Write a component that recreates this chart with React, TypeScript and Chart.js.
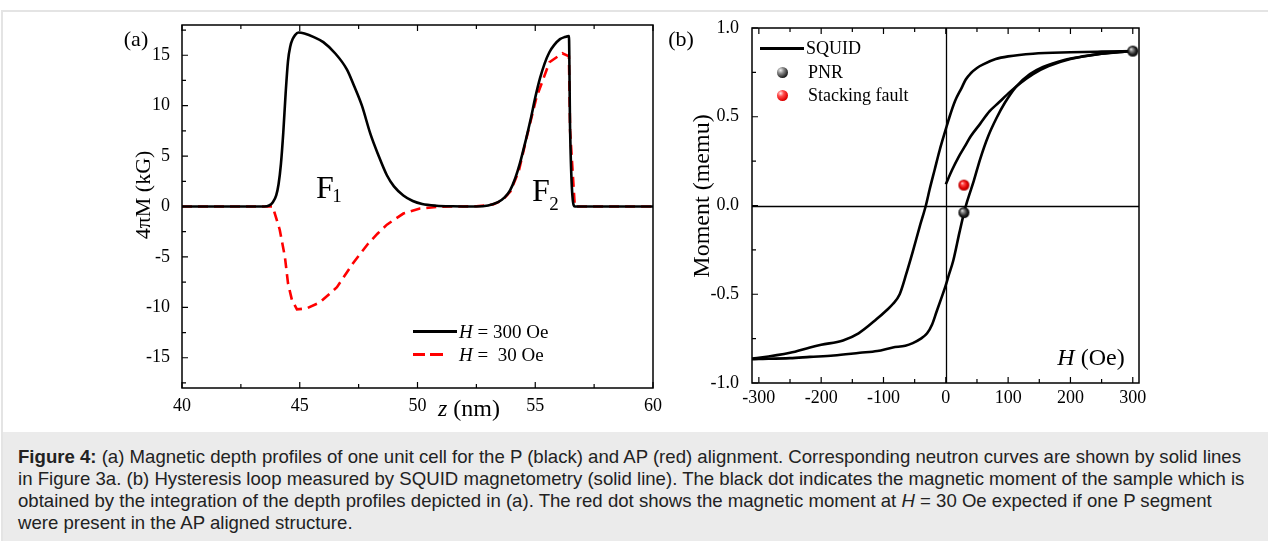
import React, { useEffect, useRef } from "react";
import { Chart, registerables } from "chart.js";
Chart.register(...registerables);

// ---------- Panel (a): magnetic depth profiles ----------
const zBlack = [40, 43.5, 43.7, 43.85, 44.0, 44.1, 44.2, 44.3, 44.4, 44.5, 44.6, 44.7, 44.8, 44.95, 45.2, 45.6, 46.0, 46.5, 47.0, 47.3, 47.64, 48.0, 48.32, 48.7, 49.0, 49.4, 49.8, 50.2, 50.8, 51.5, 52.5, 53.0, 53.4, 53.7, 53.93, 54.15, 54.35, 54.6, 54.8, 55.0, 55.2, 55.4, 55.6, 55.8, 56.05, 56.25, 56.43, 56.48, 56.68, 57.0, 60];
const mBlack = [0, 0, 0.1, 0.4, 1.1, 2.2, 4.2, 7.3, 11.2, 14.4, 15.9, 16.6, 17.0, 17.25, 17.15, 16.8, 16.3, 15.2, 13.6, 12.0, 10.0, 7.2, 5.2, 3.1, 2.0, 1.1, 0.55, 0.25, 0.08, 0.02, 0.0, 0.1, 0.4, 0.9, 1.6, 2.8, 4.3, 6.6, 8.6, 10.8, 12.7, 14.2, 15.3, 16.0, 16.6, 16.8, 16.9, 7.6, 0, 0, 0];
const zRed = [40, 43.85, 44.15, 44.37, 44.5, 44.67, 44.88, 45.3, 45.86, 46.58, 47.27, 47.9, 48.3, 48.7, 49.4, 50.1, 50.8, 51.5, 52.5, 53.2, 53.6, 53.95, 54.3, 54.65, 55.05, 55.6, 56.15, 56.43, 56.48, 56.68, 60];
const mRed = [0, 0, -2.3, -5.0, -7.6, -9.3, -10.2, -10.1, -9.5, -8.0, -5.6, -3.7, -2.7, -1.8, -0.7, -0.2, -0.05, 0, 0.02, 0.2, 0.6, 1.5, 3.5, 7.0, 10.8, 14.3, 15.2, 14.9, 7.5, 0, 0];
const xTicksA = [40, 45, 50, 55, 60];
const xMinorA = [42.5, 47.5, 52.5, 57.5];
const yTicksA = [-15, -10, -5, 0, 5, 10, 15];
const yMinorA = [-17.5, -12.5, -7.5, -2.5, 2.5, 7.5, 12.5, 17.5];

// ---------- Panel (b): hysteresis loop ----------
const hDesc = [-311, -300, -250, -218, -200, -165, -140, -111, -95, -85, -74, -63, -53, -42, -32, -26, -18, -10, 0, 6, 15, 25, 32, 40, 50, 60, 80, 100, 140, 200, 250, 300];
const mDesc = [-0.862, -0.858, -0.83, -0.8, -0.785, -0.76, -0.72, -0.64, -0.59, -0.555, -0.5, -0.38, -0.26, -0.12, 0.0, 0.09, 0.2, 0.31, 0.43, 0.5, 0.59, 0.66, 0.71, 0.745, 0.775, 0.795, 0.825, 0.84, 0.855, 0.863, 0.867, 0.87];
const hAsc = [-311, -300, -250, -218, -180, -138, -110, -85, -65, -53, -40, -30, -22, -15, -8, -2, 5, 12, 22, 30, 34, 45, 55, 68, 81, 95, 113, 135, 156, 190, 220, 260, 300];
const mAsc = [-0.866, -0.865, -0.86, -0.853, -0.845, -0.83, -0.82, -0.8, -0.79, -0.775, -0.75, -0.72, -0.67, -0.6, -0.53, -0.47, -0.39, -0.31, -0.15, -0.03, 0.02, 0.14, 0.26, 0.39, 0.49, 0.58, 0.67, 0.74, 0.78, 0.82, 0.84, 0.86, 0.87];
const hInit = [0, 10, 20, 30, 40, 55, 70, 85, 103, 120, 140, 165, 200, 250, 300];
const mInit = [0.12, 0.2, 0.27, 0.33, 0.39, 0.46, 0.53, 0.58, 0.64, 0.69, 0.74, 0.785, 0.825, 0.855, 0.87];
const hPNR = [300, 29];
const mPNR = [0.87, -0.04];
const hFault = [29];
const mFault = [0.115];
const xTicksB = [-300, -200, -100, 0, 100, 200, 300];
const xMinorB = [-250, -150, -50, 50, 150, 250];
const yTicksB = [-1, -0.5, 0, 0.5, 1];
const yMinorB = [-0.75, -0.25, 0.25, 0.75];

const SERIF = '"Liberation Serif", "Times New Roman", serif';

const pts = (xs: number[], ys: number[]) => xs.map((x, i) => ({ x, y: ys[i] }));

function makeSphere(kind: "black" | "red", r: number) {
  const c = document.createElement("canvas");
  const s = Math.ceil(r * 2) + 2;
  c.width = s;
  c.height = s;
  const g = c.getContext("2d")!;
  const cx = s / 2, cy = s / 2;
  const grad = g.createRadialGradient(cx - r * 0.35, cy - r * 0.4, 0, cx, cy, r);
  if (kind === "black") {
    grad.addColorStop(0, "#f2f2f2");
    grad.addColorStop(0.3, "#8a8a8a");
    grad.addColorStop(0.7, "#222");
    grad.addColorStop(1, "#000");
  } else {
    grad.addColorStop(0, "#ffe6e6");
    grad.addColorStop(0.3, "#ff4a4a");
    grad.addColorStop(0.7, "#e00000");
    grad.addColorStop(1, "#a80000");
  }
  g.fillStyle = grad;
  g.beginPath();
  g.arc(cx, cy, r, 0, Math.PI * 2);
  g.fill();
  return c;
}

const axesFrame = {
  id: "axesFrame",
  beforeDatasetsDraw(chart: any, _a: any, o: any) {
    if (!o || !o.zeroLines) return;
    const { ctx, chartArea: ca, scales } = chart;
    ctx.save();
    ctx.strokeStyle = "#000";
    ctx.lineWidth = 1.3;
    const x0 = Math.round(scales.x.getPixelForValue(0)) + 0.5;
    const y0 = Math.round(scales.y.getPixelForValue(0)) + 0.5;
    ctx.beginPath();
    ctx.moveTo(x0, ca.top);
    ctx.lineTo(x0, ca.bottom);
    ctx.moveTo(ca.left, y0);
    ctx.lineTo(ca.right, y0);
    ctx.stroke();
    ctx.restore();
  },
  afterDatasetsDraw(chart: any, _a: any, o: any) {
    const { ctx, chartArea: ca, scales } = chart;
    const x = scales.x, y = scales.y;
    ctx.save();
    ctx.strokeStyle = "#000";
    ctx.lineWidth = 1.5;
    ctx.strokeRect(ca.left, ca.top, ca.right - ca.left, ca.bottom - ca.top);
    ctx.lineWidth = 1.2;
    ctx.beginPath();
    const xt = (vals: number[], len: number) => {
      for (const v of vals) {
        const p = x.getPixelForValue(v);
        ctx.moveTo(p, ca.bottom);
        ctx.lineTo(p, ca.bottom - len);
        ctx.moveTo(p, ca.top);
        ctx.lineTo(p, ca.top + len);
      }
    };
    const yt = (vals: number[], len: number) => {
      for (const v of vals) {
        const p = y.getPixelForValue(v);
        ctx.moveTo(ca.left, p);
        ctx.lineTo(ca.left + len, p);
      }
    };
    xt(o.xMajor, 6);
    xt(o.xMinor, 4);
    yt(o.yMajor, 6);
    yt(o.yMinor, 4);
    ctx.stroke();
    ctx.restore();
  },
};

function tickFont() {
  return { family: SERIF, size: 18 };
}

export default function App() {
  const refA = useRef<HTMLCanvasElement>(null);
  const refB = useRef<HTMLCanvasElement>(null);

  useEffect(() => {
    document.body.style.margin = "0";
    const blackBall = makeSphere("black", 5.5);
    const redBall = makeSphere("red", 5.5);

    const chartA = new Chart(refA.current!, {
      type: "scatter",
      data: {
        datasets: [
          {
            label: "H = 300 Oe",
            data: pts(zBlack, mBlack),
            showLine: true,
            borderColor: "#000",
            borderWidth: 2.6,
            pointRadius: 0,
            cubicInterpolationMode: "monotone",
          },
          {
            label: "H = 30 Oe",
            data: pts(zRed, mRed),
            showLine: true,
            borderColor: "#ff0000",
            borderWidth: 2.6,
            borderDash: [10, 6],
            pointRadius: 0,
          },
        ],
      },
      options: {
        animation: false,
        responsive: false,
        maintainAspectRatio: false,
        layout: { padding: { left: 0, right: 27, top: 25, bottom: 0 } },
        plugins: {
          legend: { display: false },
          tooltip: { enabled: false },
          axesFrame: { xMajor: xTicksA, xMinor: xMinorA, yMajor: yTicksA, yMinor: yMinorA },
        } as any,
        scales: {
          x: {
            type: "linear",
            min: 40,
            max: 60,
            grid: { display: false },
            border: { display: false },
            afterBuildTicks: (s: any) => { s.ticks = xTicksA.map((v) => ({ value: v })); },
            afterFit: (s: any) => { s.height = 44; },
            ticks: { font: tickFont(), color: "#000", padding: -1, maxRotation: 0, autoSkip: false, callback: (v: any) => String(v) },
          },
          y: {
            type: "linear",
            min: -18,
            max: 18,
            grid: { display: false },
            border: { display: false },
            afterBuildTicks: (s: any) => { s.ticks = yTicksA.map((v) => ({ value: v })); },
            afterFit: (s: any) => { s.width = 182; },
            ticks: { font: tickFont(), color: "#000", padding: 4, autoSkip: false, callback: (v: any) => String(v) },
          },
        },
      } as any,
      plugins: [axesFrame as any],
    });

    const chartB = new Chart(refB.current!, {
      type: "scatter",
      data: {
        datasets: [
          {
            label: "PNR",
            data: pts(hPNR, mPNR),
            pointStyle: blackBall as any,
            pointRadius: 6,
            showLine: false,
          },
          {
            label: "Stacking fault",
            data: pts(hFault, mFault),
            pointStyle: redBall as any,
            pointRadius: 6,
            showLine: false,
          },
          {
            label: "SQUID",
            data: pts(hDesc, mDesc),
            showLine: true,
            borderColor: "#000",
            borderWidth: 2.6,
            pointRadius: 0,
            cubicInterpolationMode: "monotone",
          },
          {
            label: "SQUID ascending",
            data: pts(hAsc, mAsc),
            showLine: true,
            borderColor: "#000",
            borderWidth: 2.6,
            pointRadius: 0,
            cubicInterpolationMode: "monotone",
          },
          {
            label: "SQUID initial",
            data: pts(hInit, mInit),
            showLine: true,
            borderColor: "#000",
            borderWidth: 2.6,
            pointRadius: 0,
            cubicInterpolationMode: "monotone",
          },
        ],
      },
      options: {
        animation: false,
        responsive: false,
        maintainAspectRatio: false,
        layout: { padding: { left: 0, right: 129, top: 28, bottom: 0 } },
        plugins: {
          legend: { display: false },
          tooltip: { enabled: false },
          axesFrame: { zeroLines: true, xMajor: xTicksB, xMinor: xMinorB, yMajor: yTicksB, yMinor: yMinorB },
        } as any,
        scales: {
          x: {
            type: "linear",
            min: -311,
            max: 310,
            grid: { display: false },
            border: { display: false },
            afterBuildTicks: (s: any) => { s.ticks = xTicksB.map((v) => ({ value: v })); },
            afterFit: (s: any) => { s.height = 49; },
            ticks: { font: tickFont(), color: "#000", padding: -4, maxRotation: 0, autoSkip: false, callback: (v: any) => String(v) },
          },
          y: {
            type: "linear",
            min: -1,
            max: 1,
            grid: { display: false },
            border: { display: false },
            afterBuildTicks: (s: any) => { s.ticks = yTicksB.map((v) => ({ value: v })); },
            afterFit: (s: any) => { s.width = 72; },
            ticks: { font: tickFont(), color: "#000", padding: 5, autoSkip: false, callback: (v: any) => Number(v).toFixed(1) },
          },
        },
      } as any,
      plugins: [axesFrame as any],
    });

    return () => {
      chartA.destroy();
      chartB.destroy();
    };
  }, []);

  const abs = (cx: number, cy: number, size: number, extra: React.CSSProperties = {}): React.CSSProperties => ({
    position: "absolute",
    left: cx,
    top: cy,
    transform: "translate(-50%, -50%)",
    fontFamily: SERIF,
    fontSize: size,
    lineHeight: 1,
    whiteSpace: "pre",
    color: "#000",
    ...extra,
  });
  const leftMid = (lx: number, cy: number, size: number): React.CSSProperties => ({
    position: "absolute",
    left: lx,
    top: cy,
    transform: "translateY(-50%)",
    fontFamily: SERIF,
    fontSize: size,
    lineHeight: 1,
    whiteSpace: "pre",
    color: "#000",
  });
  const ball = (cx: number, cy: number, red: boolean): React.CSSProperties => ({
    position: "absolute",
    left: cx - 5.5,
    top: cy - 5.5,
    width: 11,
    height: 11,
    borderRadius: "50%",
    background: red
      ? "radial-gradient(circle at 33% 30%, #ffe6e6 0%, #ff4a4a 30%, #e00000 70%, #a80000 100%)"
      : "radial-gradient(circle at 33% 30%, #f2f2f2 0%, #8a8a8a 30%, #222 70%, #000 100%)",
  });

  const capLine: React.CSSProperties = { whiteSpace: "nowrap", height: 22, lineHeight: "22px" };

  return (
    <div style={{ position: "relative", width: 1268, height: 541, overflow: "hidden", background: "#fff" }}>
      <div
        style={{
          position: "absolute",
          left: 1,
          top: 10,
          width: 1267,
          height: 531,
          borderTop: "2px solid #e4e4e4",
          borderLeft: "2px solid #e4e4e4",
          boxSizing: "border-box",
        }}
      />
      <div
        style={{
          position: "absolute",
          left: 3,
          top: 432,
          width: 1265,
          height: 109,
          background: "#ebebeb",
          boxSizing: "border-box",
          paddingLeft: 15,
          paddingTop: 14,
          fontFamily: '"Liberation Sans", Arial, sans-serif',
          fontSize: 18.6,
          color: "#222",
        }}
      >
        <div style={capLine}>
          <b>Figure 4:</b> (a) Magnetic depth profiles of one unit cell for the P (black) and AP (red) alignment. Corresponding neutron curves are shown by solid lines
        </div>
        <div style={capLine}>
          in Figure 3a. (b) Hysteresis loop measured by SQUID magnetometry (solid line). The black dot indicates the magnetic moment of the sample which is
        </div>
        <div style={capLine}>
          obtained by the integration of the depth profiles depicted in (a). The red dot shows the magnetic moment at <i>H</i> = 30 Oe expected if one P segment
        </div>
        <div style={capLine}>were present in the AP aligned structure.</div>
      </div>

      <canvas ref={refA} width={680} height={432} style={{ position: "absolute", left: 0, top: 0, width: 680, height: 432 }} />
      <canvas ref={refB} width={588} height={432} style={{ position: "absolute", left: 680, top: 0, width: 588, height: 432 }} />

      {/* Panel (a) texts */}
      <div style={abs(136, 39, 22)}>(a)</div>
      <div style={abs(143, 195, 22, { transform: "translate(-50%, -50%) rotate(-90deg)" })}>4πM (kG)</div>
      <div style={abs(469, 408, 24)}>
        <i>z</i> (nm)
      </div>
      <div style={abs(325, 186.5, 32)}>F</div>
      <div style={abs(337, 195, 19)}>1</div>
      <div style={abs(541, 189.5, 32)}>F</div>
      <div style={abs(554, 203, 19)}>2</div>
      {/* legend (a) */}
      <div style={{ position: "absolute", left: 413, top: 330, width: 44, height: 3, background: "#000" }} />
      <div style={leftMid(459, 331, 19)}>
        <i>H</i> = 300 Oe
      </div>
      <div style={{ position: "absolute", left: 413, top: 353, width: 12, height: 3, background: "#ff0000" }} />
      <div style={{ position: "absolute", left: 430, top: 353, width: 13, height: 3, background: "#ff0000" }} />
      <div style={leftMid(459, 354, 19)}>
        <i>H</i> =  30 Oe
      </div>

      {/* Panel (b) texts */}
      <div style={abs(681, 39, 22)}>(b)</div>
      <div style={abs(701, 196, 24, { transform: "translate(-50%, -50%) rotate(-90deg)" })}>Moment (memu)</div>
      <div style={abs(1091, 357, 24)}>
        <i>H</i> (Oe)
      </div>
      {/* legend (b) */}
      <div style={{ position: "absolute", left: 760, top: 47, width: 44, height: 3, background: "#000" }} />
      <div style={leftMid(806, 48, 18)}>SQUID</div>
      <div style={ball(782, 72, false)} />
      <div style={leftMid(808, 72, 18)}>PNR</div>
      <div style={ball(782, 95, true)} />
      <div style={leftMid(808, 95, 18)}>Stacking fault</div>
    </div>
  );
}
